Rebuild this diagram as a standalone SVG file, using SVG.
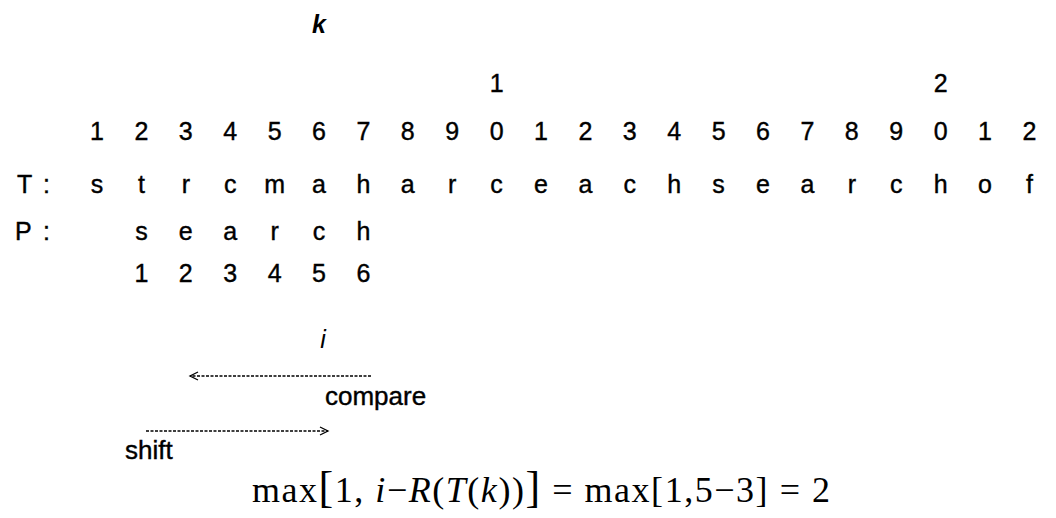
<svg xmlns="http://www.w3.org/2000/svg" width="1056" height="518" viewBox="0 0 1056 518">
<style>
.t{font-family:"Liberation Sans",Arial,sans-serif;font-size:25px;fill:#000;stroke:#000;stroke-width:0.4;text-anchor:middle}
.lbl{font-family:"Liberation Sans",Arial,sans-serif;font-size:25px;fill:#000;stroke:#000;stroke-width:0.4}
.it{font-family:"Liberation Sans",Arial,sans-serif;font-style:italic;font-size:25px;fill:#000;text-anchor:middle}
.w{font-family:"Liberation Sans",Arial,sans-serif;font-size:26px;fill:#000;stroke:#000;stroke-width:0.4}
.f{font-family:"Liberation Serif","Times New Roman",serif;font-size:36px;fill:#000}
.arr{stroke:#000;stroke-width:1.3;fill:none;stroke-dasharray:3 1.5}
</style>
<defs>
<marker id="head" viewBox="-10 -6 12 12" markerWidth="12" markerHeight="12" refX="0" refY="0" orient="auto" markerUnits="userSpaceOnUse">
<path d="M-8,-4 L0,0 L-8,4" fill="none" stroke="#000" stroke-width="1.3"/>
</marker>
</defs>
<rect width="1056" height="518" fill="#fff"/>
<g id="k-label"><text class="it" x="319" y="33" font-weight="bold">k</text></g>
<g id="tens">
<text class="t" x="496.6" y="92">1</text>
<text class="t" x="940.6" y="92">2</text>
</g>
<g id="index">
<text class="t" x="97" y="140">1</text><text class="t" x="141.4" y="140">2</text><text class="t" x="185.8" y="140">3</text><text class="t" x="230.2" y="140">4</text><text class="t" x="274.6" y="140">5</text><text class="t" x="319" y="140">6</text><text class="t" x="363.4" y="140">7</text><text class="t" x="407.8" y="140">8</text><text class="t" x="452.2" y="140">9</text><text class="t" x="496.6" y="140">0</text><text class="t" x="541" y="140">1</text><text class="t" x="585.4" y="140">2</text><text class="t" x="629.8" y="140">3</text><text class="t" x="674.2" y="140">4</text><text class="t" x="718.6" y="140">5</text><text class="t" x="763" y="140">6</text><text class="t" x="807.4" y="140">7</text><text class="t" x="851.8" y="140">8</text><text class="t" x="896.2" y="140">9</text><text class="t" x="940.6" y="140">0</text><text class="t" x="985" y="140">1</text><text class="t" x="1029.4" y="140">2</text>
</g>
<g id="T-row">
<text class="lbl" x="17" y="193">T</text><text class="lbl" x="43" y="193">:</text>
<text class="t" x="97" y="193">s</text><text class="t" x="141.4" y="193">t</text><text class="t" x="185.8" y="193">r</text><text class="t" x="230.2" y="193">c</text><text class="t" x="274.6" y="193">m</text><text class="t" x="319" y="193">a</text><text class="t" x="363.4" y="193">h</text><text class="t" x="407.8" y="193">a</text><text class="t" x="452.2" y="193">r</text><text class="t" x="496.6" y="193">c</text><text class="t" x="541" y="193">e</text><text class="t" x="585.4" y="193">a</text><text class="t" x="629.8" y="193">c</text><text class="t" x="674.2" y="193">h</text><text class="t" x="718.6" y="193">s</text><text class="t" x="763" y="193">e</text><text class="t" x="807.4" y="193">a</text><text class="t" x="851.8" y="193">r</text><text class="t" x="896.2" y="193">c</text><text class="t" x="940.6" y="193">h</text><text class="t" x="985" y="193">o</text><text class="t" x="1029.4" y="193">f</text>
</g>
<g id="P-row">
<text class="lbl" x="15" y="240">P</text><text class="lbl" x="43" y="240">:</text>
<text class="t" x="141.4" y="240">s</text><text class="t" x="185.8" y="240">e</text><text class="t" x="230.2" y="240">a</text><text class="t" x="274.6" y="240">r</text><text class="t" x="319" y="240">c</text><text class="t" x="363.4" y="240">h</text>
</g>
<g id="P-index">
<text class="t" x="141.4" y="282">1</text><text class="t" x="185.8" y="282">2</text><text class="t" x="230.2" y="282">3</text><text class="t" x="274.6" y="282">4</text><text class="t" x="319" y="282">5</text><text class="t" x="363.4" y="282">6</text>
</g>
<g id="i-label"><text class="it" x="323" y="348">i</text></g>
<g id="connectors">
<line class="arr" x1="371" y1="376" x2="190" y2="376" marker-end="url(#head)"/>
<line class="arr" x1="146" y1="431" x2="328" y2="431" marker-end="url(#head)"/>
</g>
<g id="compare-label"><text class="w" x="325" y="405">compare</text></g>
<g id="shift-label"><text class="w" x="125" y="459">shift</text></g>
<g id="formula">
<text class="f" x="252" y="502" textLength="578" lengthAdjust="spacing">max<tspan font-size="44">[</tspan>1, <tspan font-style="italic">i</tspan>−<tspan font-style="italic">R</tspan>(<tspan font-style="italic">T</tspan>(<tspan font-style="italic">k</tspan>))<tspan font-size="44">]</tspan> = max[1,5−3] = 2</text>
</g>
</svg>
